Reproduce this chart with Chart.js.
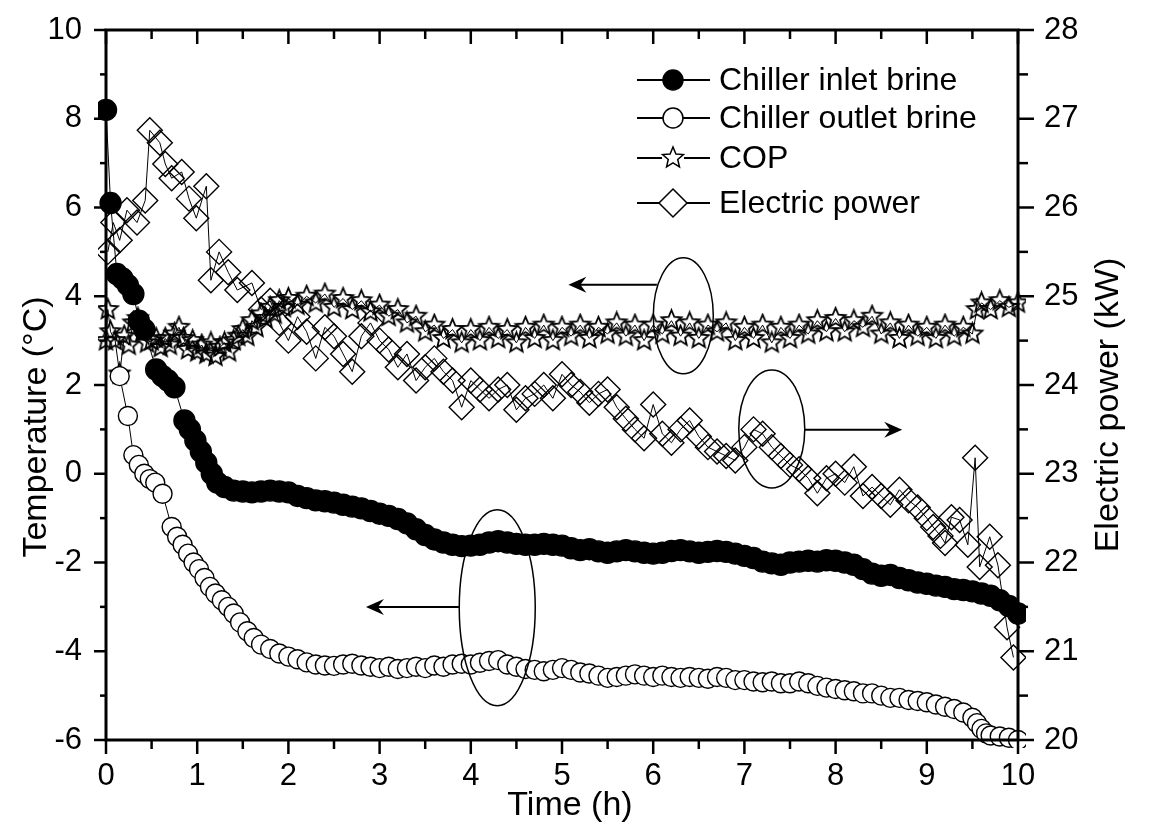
<!DOCTYPE html>
<html lang="en">
<head>
<meta charset="UTF-8">
<title>Chiller brine temperature, COP and electric power</title>
<script src="https://cdn.jsdelivr.net/npm/chart.js"></script>
<style>
  html, body { margin: 0; padding: 0; background: #fff; }
  #wrap { width: 1151px; height: 830px; }
</style>
</head>
<body>
<div id="wrap"><canvas id="chart" width="1151" height="830"></canvas></div>
<script>
// values (time in h)
const inletTime = [0, 0.05, 0.12, 0.18, 0.24, 0.3, 0.36, 0.42, 0.55, 0.62, 0.68, 0.75, 0.86, 0.92, 0.98, 1.04, 1.1, 1.16, 1.22,
  1.3, 1.4, 1.5, 1.6, 1.7, 1.8, 1.9, 2.0, 2.1, 2.2, 2.3, 2.4, 2.5, 2.6, 2.7, 2.8, 2.9, 3.0, 3.1, 3.2, 3.3, 3.4, 3.5, 3.6, 3.7, 3.8, 3.9,
  4.0, 4.1, 4.2, 4.3, 4.4, 4.5, 4.6, 4.7, 4.8, 4.9, 5.0, 5.1, 5.2, 5.3, 5.4, 5.5, 5.6, 5.7, 5.8, 5.9,
  6.0, 6.1, 6.2, 6.3, 6.4, 6.5, 6.6, 6.7, 6.8, 6.9, 7.0, 7.1, 7.2, 7.3, 7.4, 7.5, 7.6, 7.7, 7.8, 7.9,
  8.0, 8.1, 8.2, 8.3, 8.4, 8.5, 8.6, 8.7, 8.8, 8.9, 9.0, 9.1, 9.2, 9.3, 9.4, 9.5, 9.6, 9.7, 9.8, 9.9, 10.0];
const inletTemp = [8.2, 6.1, 4.5, 4.4, 4.25, 4.05, 3.45, 3.25, 2.35, 2.2, 2.1, 1.95, 1.2, 1.0, 0.75, 0.5, 0.25, 0.0, -0.2,
  -0.3, -0.38, -0.4, -0.42, -0.4, -0.38, -0.4, -0.42, -0.5, -0.55, -0.6, -0.62, -0.65, -0.7, -0.74, -0.78, -0.84, -0.9, -0.95, -1.02, -1.12, -1.25, -1.38, -1.48, -1.55, -1.6, -1.63,
  -1.62, -1.6, -1.55, -1.52, -1.55, -1.58, -1.6, -1.6, -1.58, -1.6, -1.62, -1.68, -1.72, -1.7, -1.75, -1.78, -1.75, -1.72, -1.75, -1.78,
  -1.8, -1.78, -1.74, -1.72, -1.75, -1.78, -1.76, -1.74, -1.76, -1.8, -1.85, -1.9, -1.98, -2.02, -2.05, -2.0, -1.98, -1.96, -1.98, -1.95,
  -1.96, -2.0, -2.05, -2.15, -2.25, -2.3, -2.28, -2.35, -2.4, -2.45, -2.48, -2.52, -2.55, -2.6, -2.62, -2.65, -2.7, -2.75, -2.85, -2.98, -3.15];

const outletTime = [0.15, 0.24, 0.3, 0.36, 0.42, 0.48, 0.54, 0.62, 0.72, 0.78, 0.84, 0.9, 0.96, 1.02, 1.08, 1.14, 1.2, 1.27, 1.34, 1.4, 1.47, 1.55, 1.62, 1.7, 1.8, 1.9,
  2.0, 2.1, 2.2, 2.3, 2.4, 2.5, 2.6, 2.7, 2.8, 2.9, 3.0, 3.1, 3.2, 3.3, 3.4, 3.5, 3.6, 3.7, 3.8, 3.9,
  4.0, 4.1, 4.2, 4.3, 4.4, 4.5, 4.6, 4.7, 4.8, 4.9, 5.0, 5.1, 5.2, 5.3, 5.4, 5.5, 5.6, 5.7, 5.8, 5.9,
  6.0, 6.1, 6.2, 6.3, 6.4, 6.5, 6.6, 6.7, 6.8, 6.9, 7.0, 7.1, 7.2, 7.3, 7.4, 7.5, 7.6, 7.7, 7.8, 7.9,
  8.0, 8.1, 8.2, 8.3, 8.4, 8.5, 8.6, 8.7, 8.8, 8.9, 9.0, 9.1, 9.2, 9.3, 9.4, 9.5, 9.55, 9.6, 9.65, 9.7, 9.8, 9.9, 10.0];
const outletTemp = [2.2, 1.3, 0.42, 0.2, 0.0, -0.12, -0.2, -0.45, -1.2, -1.42, -1.6, -1.8, -2.0, -2.15, -2.35, -2.55, -2.7, -2.85, -3.0, -3.15, -3.35, -3.55, -3.7, -3.85, -3.95, -4.05,
  -4.12, -4.18, -4.25, -4.3, -4.32, -4.33, -4.3, -4.28, -4.32, -4.35, -4.38, -4.35, -4.4, -4.38, -4.35, -4.38, -4.32, -4.35, -4.3, -4.28,
  -4.3, -4.26, -4.22, -4.2, -4.3, -4.35, -4.4, -4.42, -4.45, -4.42, -4.38, -4.42, -4.48, -4.5, -4.55, -4.6, -4.58, -4.55, -4.52, -4.55,
  -4.58, -4.55, -4.58, -4.6, -4.58, -4.6, -4.62, -4.58, -4.6, -4.65, -4.65, -4.68, -4.7, -4.68, -4.72, -4.72, -4.68, -4.72, -4.78, -4.82,
  -4.85, -4.88, -4.9, -4.95, -4.95, -5.0, -5.05, -5.05, -5.1, -5.12, -5.15, -5.2, -5.25, -5.3, -5.38, -5.5, -5.62, -5.75, -5.85, -5.9, -5.92, -5.95, -6.0];

const copTime = [0, 0.02, 0.05, 0.1, 0.15, 0.2, 0.25, 0.3, 0.35, 0.4, 0.45, 0.5, 0.55, 0.6, 0.65, 0.7, 0.75, 0.8, 0.85, 0.9, 0.95,
  1.0, 1.05, 1.1, 1.15, 1.2, 1.25, 1.3, 1.35, 1.4, 1.45, 1.5, 1.55, 1.6, 1.65, 1.7, 1.75, 1.8, 1.85, 1.9, 1.95,
  2.0, 2.1, 2.2, 2.3, 2.4, 2.5, 2.6, 2.7, 2.8, 2.9, 3.0, 3.1, 3.2, 3.3, 3.4, 3.5, 3.6, 3.7, 3.8, 3.9,
  4.0, 4.1, 4.2, 4.3, 4.4, 4.5, 4.6, 4.7, 4.8, 4.9, 5.0, 5.1, 5.2, 5.3, 5.4, 5.5, 5.6, 5.7, 5.8, 5.9,
  6.0, 6.1, 6.2, 6.3, 6.4, 6.5, 6.6, 6.7, 6.8, 6.9, 7.0, 7.1, 7.2, 7.3, 7.4, 7.5, 7.6, 7.7, 7.8, 7.9,
  8.0, 8.1, 8.2, 8.3, 8.4, 8.5, 8.6, 8.7, 8.8, 8.9, 9.0, 9.1, 9.2, 9.3, 9.4, 9.5, 9.55, 9.6, 9.7, 9.8, 9.9, 10.0];
const copValue = [3.0, 3.7, 3.2, 3.0, 2.25, 3.1, 2.9, 3.4, 3.5, 3.2, 2.95, 3.0, 3.05, 2.85, 3.05, 2.9, 3.15, 3.3, 3.05, 2.8, 3.0,
  2.75, 2.9, 2.7, 2.95, 2.65, 2.85, 2.95, 2.75, 3.0, 3.1, 3.25, 3.1, 3.45, 3.3, 3.6, 3.5, 3.75, 3.6, 3.9, 3.75,
  3.95, 3.8, 4.0, 3.85, 4.05, 3.75, 3.95, 3.7, 3.9, 3.65, 3.8, 3.55, 3.7, 3.4, 3.55, 3.2, 3.35, 3.05, 3.25, 2.95,
  3.25, 3.0, 3.3, 3.05, 3.25, 2.95, 3.3, 3.05, 3.35, 3.0, 3.3, 3.1, 3.35, 3.05, 3.3, 3.15, 3.4, 3.1, 3.35, 3.0,
  3.35, 3.15, 3.45, 3.1, 3.4, 3.05, 3.35, 3.2, 3.4, 3.0, 3.3, 3.05, 3.35, 2.95, 3.3, 3.05, 3.35, 3.15, 3.45, 3.2,
  3.5, 3.2, 3.45, 3.3, 3.55, 3.15, 3.4, 3.05, 3.35, 3.1, 3.3, 3.05, 3.35, 3.1, 3.3, 3.15, 3.7, 3.85, 3.7, 3.9, 3.75, 3.85];

const powerTime = [0.02, 0.08, 0.15, 0.23, 0.34, 0.43, 0.48, 0.59, 0.65, 0.72, 0.83, 0.91, 0.99, 1.1, 1.15, 1.24, 1.34, 1.44, 1.6,
  1.7, 1.8, 1.9, 2.0, 2.1, 2.2, 2.3, 2.4, 2.5, 2.6, 2.7, 2.8, 2.9, 3.0, 3.1, 3.2, 3.3, 3.4, 3.5, 3.6, 3.7, 3.8, 3.9,
  4.0, 4.1, 4.2, 4.3, 4.4, 4.5, 4.6, 4.7, 4.8, 4.9, 5.0, 5.1, 5.2, 5.3, 5.4, 5.5, 5.6, 5.7, 5.8, 5.9,
  6.0, 6.1, 6.2, 6.3, 6.4, 6.5, 6.6, 6.7, 6.8, 6.9, 7.0, 7.1, 7.2, 7.3, 7.4, 7.5, 7.6, 7.7, 7.8, 7.9,
  8.0, 8.1, 8.2, 8.3, 8.4, 8.5, 8.6, 8.7, 8.8, 8.9, 9.0, 9.07, 9.15, 9.2, 9.27, 9.36, 9.45, 9.53, 9.58, 9.69, 9.78, 9.88, 9.95];
const powerKW = [25.5, 25.83, 25.63, 25.97, 25.83, 26.08, 26.87, 26.73, 26.49, 26.33, 26.4, 26.1, 25.88, 26.24, 25.18, 25.5, 25.27, 25.07, 25.15,
  24.85, 24.95, 24.7, 24.5, 24.77, 24.6, 24.3, 24.65, 24.55, 24.35, 24.15, 24.55, 24.7, 24.5, 24.4, 24.2, 24.35, 24.05, 24.2, 24.3, 24.15, 24.05, 23.75,
  24.05, 23.95, 23.85, 23.95, 24.0, 23.72, 23.85, 23.9, 24.0, 23.85, 24.12, 24.0, 23.92, 23.8, 23.9, 23.95, 23.75, 23.62, 23.5, 23.4,
  23.78, 23.45, 23.35, 23.5, 23.6, 23.42, 23.3, 23.25, 23.2, 23.15, 23.3, 23.5, 23.45, 23.3, 23.2, 23.1, 23.05, 22.95, 22.78, 22.95,
  23.0, 22.9, 23.08, 22.75, 22.85, 22.75, 22.65, 22.82, 22.7, 22.62, 22.5, 22.4, 22.3, 22.22, 22.51, 22.48, 22.2, 23.18, 21.95, 22.29, 21.97, 21.27, 20.93];

const seriesNames = ['Chiller inlet brine', 'Chiller outlet brine', 'COP', 'Electric power'];
const xTitle = 'Time (h)';
const yTitle = 'Temperature (\u00B0C)';
const y1Title = 'Electric power (kW)';

const pairs = (xs, ys) => xs.map((x, i) => ({ x: x, y: ys[i] }));

function makeStar(r, lw) {
  const c = document.createElement('canvas');
  const s = Math.ceil(r * 2 + 4);
  c.width = c.height = s;
  const g = c.getContext('2d');
  g.beginPath();
  for (let i = 0; i < 10; i++) {
    const a = -Math.PI / 2 + i * Math.PI / 5;
    const rr = i % 2 ? r * 0.45 : r;
    g.lineTo(s / 2 + rr * Math.cos(a), s / 2 + rr * Math.sin(a));
  }
  g.closePath();
  g.strokeStyle = '#000';
  g.lineWidth = lw;
  g.stroke();
  return c;
}
const starImg = makeStar(10.5, 1.8);
const starLegend = makeStar(11, 1.5);

const FONT = "'Liberation Sans', Arial, Helvetica, sans-serif";
Chart.defaults.font.family = FONT;
Chart.defaults.color = '#000';

// ellipses and arrows marking which axis each group belongs to
const marks = [
  { t: 6.33, v: 3.56, rx: 30, ry: 58, from: [6.04, 4.26], to: [5.07, 4.26] },
  { t: 7.30, v: 1.01, rx: 33, ry: 59, from: [7.66, 0.99], to: [8.73, 0.99] },
  { t: 4.29, v: -3.02, rx: 38, ry: 98, from: [3.87, -3.0], to: [2.85, -3.0] }
];

const decor = {
  id: 'decor',
  afterDatasetsDraw(chart) {
    const { ctx, scales: { x, y } } = chart;
    ctx.save();
    ctx.strokeStyle = '#000';
    ctx.fillStyle = '#000';
    ctx.lineWidth = 1.5;
    marks.forEach(m => {
      ctx.beginPath();
      ctx.ellipse(x.getPixelForValue(m.t), y.getPixelForValue(m.v), m.rx, m.ry, 0, 0, Math.PI * 2);
      ctx.stroke();
      const x0 = x.getPixelForValue(m.from[0]), y0 = y.getPixelForValue(m.from[1]);
      const x1 = x.getPixelForValue(m.to[0]), y1 = y.getPixelForValue(m.to[1]);
      const dir = Math.sign(x1 - x0);
      ctx.lineWidth = 2;
      ctx.beginPath();
      ctx.moveTo(x0, y0);
      ctx.lineTo(x1 - dir * 10, y1);
      ctx.stroke();
      ctx.beginPath();
      ctx.moveTo(x1, y1);
      ctx.lineTo(x1 - dir * 18, y1 - 8);
      ctx.lineTo(x1 - dir * 12, y1);
      ctx.lineTo(x1 - dir * 18, y1 + 8);
      ctx.closePath();
      ctx.fill();
      ctx.lineWidth = 1.5;
    });
    ctx.restore();
  },
  afterDraw(chart) {
    const { ctx, chartArea: a, scales: { x, y, y1 } } = chart;
    ctx.save();
    ctx.strokeStyle = '#000';
    ctx.fillStyle = '#000';
    const seg = (ax, ay, bx, by) => { ctx.beginPath(); ctx.moveTo(ax, ay); ctx.lineTo(bx, by); ctx.stroke(); };

    // frame
    ctx.lineWidth = 3;
    ctx.strokeRect(a.left, a.top, a.right - a.left, a.bottom - a.top);

    // ticks
    ctx.lineWidth = 2.5;
    for (let i = 0; i <= 20; i++) {
      const px = x.getPixelForValue(i / 2);
      const len = i % 2 === 0 ? 14 : 9;
      seg(px, a.bottom, px, a.bottom + len);
      seg(px, a.top, px, a.top + len);
    }
    for (let v = -6; v <= 10; v++) {
      const py = y.getPixelForValue(v);
      seg(a.left - (v % 2 === 0 ? 12 : 6), py, a.left, py);
    }
    for (let i = 40; i <= 56; i++) {
      const py = y1.getPixelForValue(i / 2);
      seg(a.right, py, a.right + (i % 2 === 0 ? 16 : 10), py);
    }

    // axis titles
    ctx.font = '34px ' + FONT;
    ctx.textAlign = 'center';
    ctx.textBaseline = 'middle';
    ctx.fillText(xTitle, 570, 806);
    ctx.save();
    ctx.translate(37, 427);
    ctx.rotate(-Math.PI / 2);
    ctx.fillText(yTitle, 0, 0);
    ctx.restore();
    ctx.save();
    ctx.translate(1109, 405);
    ctx.rotate(-Math.PI / 2);
    ctx.fillText(y1Title, 0, 0);
    ctx.restore();

    // legend
    const rows = [80, 118, 158, 203];
    ctx.font = '32px ' + FONT;
    ctx.textAlign = 'left';
    rows.forEach((ry, i) => {
      ctx.lineWidth = 1.8;
      seg(637, ry, 710, ry);
      ctx.lineWidth = 1.5;
      if (i === 0 || i === 1) {
        ctx.beginPath();
        ctx.arc(673, ry, 10, 0, Math.PI * 2);
        ctx.fillStyle = i === 0 ? '#000' : '#fff';
        ctx.fill();
        ctx.stroke();
      } else if (i === 2) {
        ctx.fillStyle = '#fff';
        ctx.fillRect(662, ry - 11, 22, 22);
        ctx.drawImage(starLegend, 673 - starLegend.width / 2, ry - starLegend.height / 2);
      } else {
        ctx.beginPath();
        ctx.moveTo(673, ry - 14);
        ctx.lineTo(687, ry);
        ctx.lineTo(673, ry + 14);
        ctx.lineTo(659, ry);
        ctx.closePath();
        ctx.fillStyle = '#fff';
        ctx.fill();
        ctx.stroke();
      }
      ctx.fillStyle = '#000';
      ctx.fillText(seriesNames[i], 719, ry + 1);
    });
    ctx.restore();
  }
};

const base = { borderColor: '#000', borderWidth: 1, tension: 0, clip: 8, pointBorderColor: '#000', pointBorderWidth: 1.4 };

// fixed axis boxes so the plot area sits where the figure has it
const fixBox = (w, h) => s => {
  if (w) s.width = w;
  if (h) s.height = h;
  s.paddingTop = 0; s.paddingBottom = 0; s.paddingLeft = 0; s.paddingRight = 0;
};

new Chart(document.getElementById('chart'), {
  type: 'line',
  data: {
    datasets: [
      Object.assign({}, base, { label: seriesNames[0], data: pairs(inletTime, inletTemp), yAxisID: 'y',
        pointStyle: 'circle', pointRadius: 10.5, pointBackgroundColor: '#000' }),
      Object.assign({}, base, { label: seriesNames[1], data: pairs(outletTime, outletTemp), yAxisID: 'y',
        pointStyle: 'circle', pointRadius: 9.5, pointBackgroundColor: '#fff' }),
      Object.assign({}, base, { label: seriesNames[2], data: pairs(copTime, copValue), yAxisID: 'y',
        pointStyle: starImg, pointRadius: 10 }),
      Object.assign({}, base, { label: seriesNames[3], data: pairs(powerTime, powerKW), yAxisID: 'y1',
        pointStyle: 'rectRot', pointRadius: 12.5, pointBackgroundColor: 'rgba(0,0,0,0)' })
    ]
  },
  options: {
    responsive: false,
    animation: false,
    devicePixelRatio: 1,
    layout: { padding: { top: 30, left: 0, right: 0, bottom: 0 } },
    plugins: { legend: { display: false }, tooltip: { enabled: false } },
    scales: {
      x: {
        type: 'linear', min: 0, max: 10,
        grid: { display: false, drawTicks: false }, border: { display: false },
        ticks: { stepSize: 1, padding: 18, font: { size: 31 }, callback: v => String(v) },
        afterFit: fixBox(0, 90)
      },
      y: {
        position: 'left', min: -6, max: 10,
        grid: { display: false, drawTicks: false }, border: { display: false },
        ticks: { stepSize: 2, padding: 24, font: { size: 31 }, callback: v => String(v) },
        afterFit: fixBox(106, 0)
      },
      y1: {
        position: 'right', min: 20, max: 28,
        grid: { display: false, drawTicks: false }, border: { display: false },
        ticks: { stepSize: 1, padding: 26, font: { size: 31 }, callback: v => String(v) },
        afterFit: fixBox(133, 0)
      }
    }
  },
  plugins: [decor]
});
</script>
</body>
</html>
